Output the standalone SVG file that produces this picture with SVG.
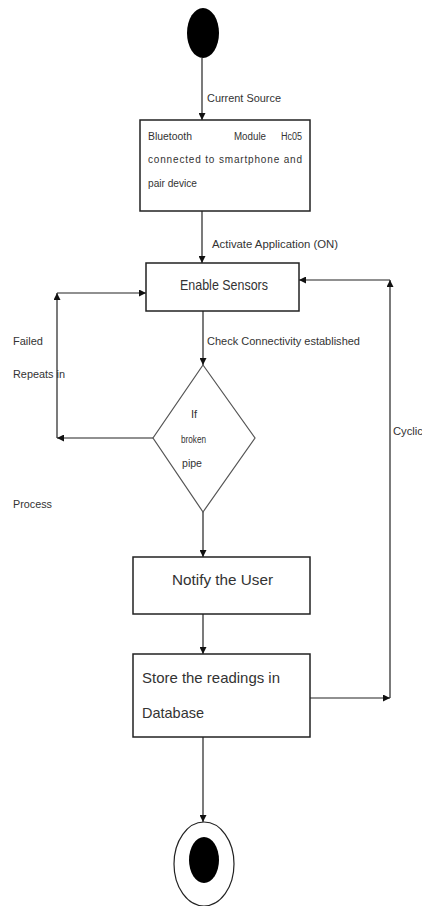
<svg xmlns="http://www.w3.org/2000/svg" width="422" height="906" viewBox="0 0 422 906">
<style>
.box{fill:#fff;stroke:#222;stroke-width:1.5}
.dia{fill:#fff;stroke:#555;stroke-width:1.2}
.ln{fill:none;stroke:#222;stroke-width:1.2}
.t{font-family:"Liberation Sans",Arial,sans-serif;fill:#333}
.s{font-size:11px}
.b{font-size:10px}
.m{font-size:15px}
</style>
<defs>
<marker id="ah" viewBox="0 0 10 10" refX="10" refY="5" markerWidth="7" markerHeight="7" markerUnits="userSpaceOnUse" orient="auto">
<path d="M0,0 L10,5 L0,10 z" fill="#111"/>
</marker>
</defs>
<rect width="422" height="906" fill="#fff"/>
<g id="connectors">
<line class="ln" x1="202" y1="58" x2="202" y2="120" marker-end="url(#ah)"/>
<line class="ln" x1="202" y1="211" x2="202" y2="263" marker-end="url(#ah)"/>
<line class="ln" x1="203" y1="311" x2="203" y2="365" marker-end="url(#ah)"/>
<line class="ln" x1="153" y1="438" x2="57" y2="438" marker-end="url(#ah)"/>
<line class="ln" x1="57" y1="438" x2="57" y2="293" marker-end="url(#ah)"/>
<line class="ln" x1="57" y1="293" x2="146" y2="293" marker-end="url(#ah)"/>
<line class="ln" x1="203" y1="512" x2="203" y2="557" marker-end="url(#ah)"/>
<line class="ln" x1="203" y1="614" x2="203" y2="654" marker-end="url(#ah)"/>
<line class="ln" x1="310" y1="698" x2="390" y2="698" marker-end="url(#ah)"/>
<line class="ln" x1="390" y1="698" x2="390" y2="280" marker-end="url(#ah)"/>
<line class="ln" x1="390" y1="280" x2="299" y2="280" marker-end="url(#ah)"/>
<line class="ln" x1="203" y1="737" x2="203" y2="822" marker-end="url(#ah)"/>
</g>
<g id="labels">
<text class="t s" x="207" y="102" textLength="74" lengthAdjust="spacingAndGlyphs">Current Source</text>
<text class="t s" x="212" y="248" textLength="126" lengthAdjust="spacingAndGlyphs">Activate Application (ON)</text>
<text class="t s" x="207" y="345" textLength="153" lengthAdjust="spacingAndGlyphs">Check Connectivity established</text>
<text class="t s" x="13" y="345" textLength="30" lengthAdjust="spacingAndGlyphs">Failed</text>
<text class="t s" x="13" y="378" textLength="52" lengthAdjust="spacingAndGlyphs">Repeats in</text>
<text class="t s" x="13" y="508" textLength="39" lengthAdjust="spacingAndGlyphs">Process</text>
<text class="t s" x="393" y="435" textLength="30" lengthAdjust="spacingAndGlyphs">Cyclic</text>
</g>
<g id="start">
<ellipse cx="203" cy="33" rx="16" ry="25" fill="#000"/>
</g>
<g id="bluetooth">
<rect class="box" x="140" y="120" width="170" height="91"/>
<text class="t b" x="148" y="140" textLength="44" lengthAdjust="spacingAndGlyphs">Bluetooth</text>
<text class="t b" x="234" y="140" textLength="32" lengthAdjust="spacingAndGlyphs">Module</text>
<text class="t b" x="302" y="140" text-anchor="end" textLength="21" lengthAdjust="spacingAndGlyphs">Hc05</text>
<text class="t b" x="148" y="163" textLength="154" lengthAdjust="spacing">connected to smartphone and</text>
<text class="t b" x="148" y="187" textLength="49" lengthAdjust="spacingAndGlyphs">pair device</text>
</g>
<g id="enable">
<rect class="box" x="146" y="263" width="153" height="48"/>
<text class="t m" x="180" y="290" textLength="88" lengthAdjust="spacingAndGlyphs">Enable Sensors</text>
</g>
<g id="decision">
<polygon class="dia" points="203,365 255,438 203,512 153,438"/>
<text class="t s" x="191" y="418">If</text>
<text class="t s" x="181" y="443" textLength="25" lengthAdjust="spacingAndGlyphs">broken</text>
<text class="t s" x="182" y="467" textLength="20" lengthAdjust="spacingAndGlyphs">pipe</text>
</g>
<g id="notify">
<rect class="box" x="133" y="557" width="177" height="57"/>
<text class="t m" x="172" y="585" textLength="101" lengthAdjust="spacingAndGlyphs">Notify the User</text>
</g>
<g id="store">
<rect class="box" x="133" y="654" width="177" height="83"/>
<text class="t m" x="142" y="683" textLength="138" lengthAdjust="spacingAndGlyphs">Store the readings in</text>
<text class="t m" x="142" y="718" textLength="62" lengthAdjust="spacingAndGlyphs">Database</text>
</g>
<g id="end">
<ellipse cx="204" cy="864" rx="30" ry="42" fill="#fff" stroke="#222" stroke-width="1.2"/>
<ellipse cx="204" cy="860" rx="15" ry="23" fill="#000"/>
</g>
</svg>
